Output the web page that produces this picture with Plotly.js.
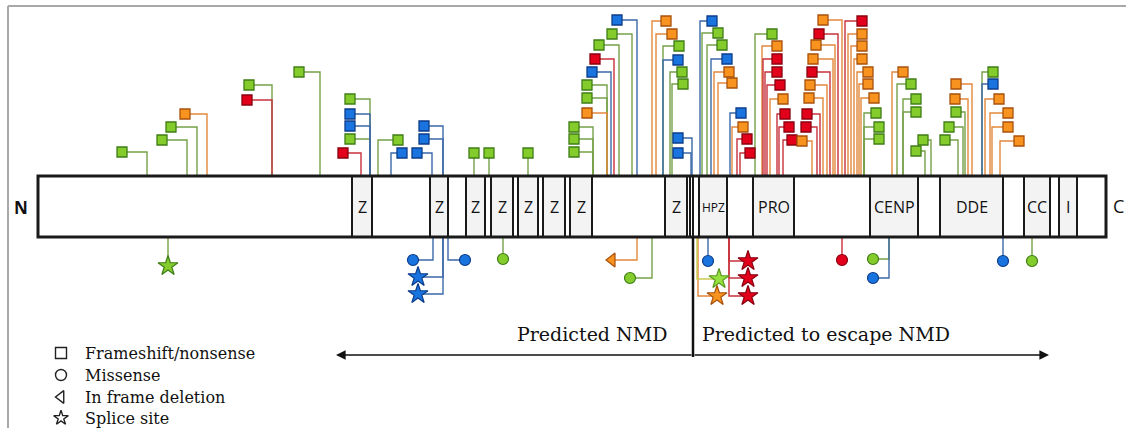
<!DOCTYPE html>
<html><head><meta charset="utf-8">
<script src="https://cdn.plot.ly/plotly-3.0.1.min.js"></script>
<style>html,body{margin:0;padding:0;background:#fff}#chart{width:1126px;height:428px}</style>
</head><body><div id="chart"></div>
<script>
// ---- protein bar (positions along the protein, in figure units) ----
const barStart = 38, barEnd = 1106;
const barTop = 176, barBottom = 237;

const domainStart = [352,430,466,491,518,543,570,665,690,699,753,870,940,1024,1059];
const domainEnd   = [372,448,485,513,538,565,592,687,693,727,794,918,1003,1050,1077];
const domainLabel = ['Z','Z','Z','Z','Z','Z','Z','Z','','HPZ','PRO','CENP','DDE','CC','I'];

// ---- mutations above the bar (frameshift / nonsense) ----
const topStem  = [147,187,197,207,272,272,320,370,370,370,370,361,378,391,443,443,432,474,489,528,
                  637,632,619,614,611,607,607,607,593,593,593,652,656,663,663,670,672,692,691,
                  700,702,707,711,714,718,730,732,737,740,755,762,763,765,767,770,777,779,783,
                  842,838,835,833,830,827,823,820,817,812,
                  845,848,851,854,857,859,861,864,864,864,892,897,903,903,931,925,
                  972,968,965,963,958,982,982,985,990,992,1000];
const topHead  = [122,162,171,185,249,247,299,350,350,350,350,343,398,402,424,424,417,474,489,528,
                  617,612,599,595,592,587,587,587,574,574,574,666,672,679,678,682,683,678,678,
                  712,718,722,727,729,732,741,743,747,750,772,777,777,777,780,783,785,789,792,
                  823,819,816,813,812,810,809,807,806,802,
                  862,862,862,862,868,868,874,876,879,879,903,911,916,916,923,916,
                  956,955,956,949,945,993,993,999,1008,1008,1019];
const topLevel = [152,140,127,114,85,100,72,99,114,126,139,153,140,153,126,139,153,153,153,153,
                  20,34,45,59,72,85,98,113,127,139,152,21,34,46,60,72,84,138,153,
                  21,33,45,59,72,83,113,127,139,153,34,46,59,72,85,99,114,127,140,
                  20,34,45,59,72,85,98,114,127,141,
                  21,34,46,59,72,84,98,113,127,139,72,84,99,112,140,151,
                  84,99,112,127,140,72,84,99,113,127,141];
const topType  = ['g','g','g','o','g','r','g','g','b','b','g','r','g','b','b','b','b','g','g','g',
                  'b','g','g','r','b','g','g','o','g','g','g','o','o','g','b','g','g','b','b',
                  'b','g','g','b','o','o','b','o','r','r','g','o','r','r','r','o','r','r','r',
                  'o','r','o','o','r','o','o','r','r','o',
                  'r','o','o','o','o','o','o','g','g','g','o','g','g','g','g','g',
                  'o','o','g','g','g','g','b','o','o','o','o'];

// ---- mutations below the bar ----
const botStem   = [168,433,443,443,448,503,637,652,708,697,698,729,729,729,842,889,889,1003,1032];
const botHead   = [168,413,418,418,465,503,612,630,708,719,717,748,748,748,842,873,873,1003,1032];
const botLevel  = [266,260,277,294,260,259,260,278,261,279,296,261,278,296,260,259,278,261,261];
const botType   = ['g','b','b','b','b','g','o','g','b','l','o','r','r','r','r','g','b','b','g'];
const botSymbol = ['star','circle','star','star','circle','circle','triangle-left','circle','circle',
                   'star','star','star','star','star','circle','circle','circle','circle','circle'];

// ---- legend / labels ----
const legendSymbols = ['square-open','circle-open','triangle-left-open','star-open'];
const legendLabels  = ['Frameshift/nonsense','Missense','In frame deletion','Splice site'];
const nmdLabels     = ['Predicted NMD','Predicted to escape NMD'];

// ---- styles ----
const fillC = {g:'#84cc2c', o:'#f7931e', r:'#e3001b', b:'#1a74e0', l:'#96e040'};
const edgeC = {g:'#3f7d16', o:'#a9510c', r:'#8a0010', b:'#0c3c8a', l:'#5a9a20'};
const lineC = {g:'#76a048', o:'#e3883c', r:'#c8323c', b:'#3b68a8', l:'#c9cc50'};

const traces = [];
function addLines(stems, heads, levels, types, base) {
  const groups = {};
  stems.forEach((s, i) => {
    const t = types[i];
    if (!groups[t]) groups[t] = {x: [], y: []};
    groups[t].x.push(s, s, heads[i], null);
    groups[t].y.push(base, levels[i], levels[i], null);
  });
  Object.keys(groups).forEach(t => traces.push({
    type: 'scatter', mode: 'lines', x: groups[t].x, y: groups[t].y,
    line: {color: lineC[t], width: 1.4}, hoverinfo: 'skip', showlegend: false
  }));
}
addLines(topStem, topHead, topLevel, topType, barTop);
addLines(botStem, botHead, botLevel, botType, barBottom);

traces.push({
  type: 'scatter', mode: 'markers', x: topHead, y: topLevel, showlegend: false, hoverinfo: 'skip',
  marker: {symbol: 'square', size: 10, opacity: 1, color: topType.map(t => fillC[t]),
           line: {color: topType.map(t => edgeC[t]), width: 1.3}}
});
traces.push({
  type: 'scatter', mode: 'markers', x: botHead, y: botLevel, showlegend: false, hoverinfo: 'skip',
  marker: {symbol: botSymbol, opacity: 1,
           size: botSymbol.map(s => s === 'star' ? 15 : (s === 'circle' ? 11 : 12)),
           color: botType.map(t => fillC[t]),
           line: {color: botType.map(t => edgeC[t]), width: 1.2}}
});
traces.push({
  type: 'scatter', mode: 'markers', x: legendSymbols.map(() => 61), y: [353, 375, 397, 418],
  showlegend: false, hoverinfo: 'skip',
  marker: {symbol: legendSymbols, size: 11, opacity: 1, color: '#222', line: {color: '#222', width: 1.4}}
});

const shapes = [
  {type: 'line', x0: 8, x1: 1126, y0: 6, y1: 6, line: {color: '#a8a8a8', width: 2}},
  {type: 'line', x0: 8, x1: 8, y0: 6, y1: 428, line: {color: '#a8a8a8', width: 2}},
  {type: 'rect', x0: barStart, x1: barEnd, y0: barTop, y1: barBottom, layer: 'below',
   fillcolor: '#ffffff', line: {width: 0}}
];
domainStart.forEach((s, i) => {
  shapes.push({type: 'rect', x0: s, x1: domainEnd[i], y0: barTop, y1: barBottom, layer: 'below',
               fillcolor: domainLabel[i] ? '#f3f3f3' : '#ffffff', line: {color: '#1a1a1a', width: 2}});
});
shapes.push({type: 'rect', x0: barStart, x1: barEnd, y0: barTop, y1: barBottom,
             fillcolor: 'rgba(0,0,0,0)', line: {color: '#1a1a1a', width: 3}});
shapes.push({type: 'line', x0: 693, x1: 693, y0: barBottom, y1: 357, line: {color: '#111', width: 2.5}});

const annotations = [];
domainLabel.forEach((lab, i) => {
  if (!lab) return;
  annotations.push({x: (domainStart[i] + domainEnd[i]) / 2, y: 207, text: lab, showarrow: false,
    font: {family: 'Open Sans, sans-serif', size: lab === 'HPZ' ? 12 : 16, color: '#111'}});
});
annotations.push({x: 21, y: 207, text: '<b>N</b>', showarrow: false,
  font: {family: 'Open Sans, sans-serif', size: 17, color: '#111'}});
annotations.push({x: 1118, y: 206, text: 'C', showarrow: false,
  font: {family: 'Open Sans, sans-serif', size: 18, color: '#111'}});
legendLabels.forEach((lab, i) => {
  annotations.push({x: 83, y: [353, 375, 397, 418][i], text: lab, showarrow: false, xanchor: 'left',
    font: {family: 'DejaVu Serif, serif', size: 16, color: '#111'}});
});
annotations.push({x: 592, y: 334, text: nmdLabels[0], showarrow: false,
  font: {family: 'DejaVu Serif, serif', size: 19, color: '#111'}});
annotations.push({x: 826, y: 334, text: nmdLabels[1], showarrow: false,
  font: {family: 'DejaVu Serif, serif', size: 19, color: '#111'}});
annotations.push({x: 336, y: 355, ax: 693, ay: 355, axref: 'x', ayref: 'y', xref: 'x', yref: 'y',
  text: '', showarrow: true, arrowhead: 2, arrowsize: 1.2, arrowwidth: 1.6, arrowcolor: '#111'});
annotations.push({x: 1049, y: 355, ax: 693, ay: 355, axref: 'x', ayref: 'y', xref: 'x', yref: 'y',
  text: '', showarrow: true, arrowhead: 2, arrowsize: 1.2, arrowwidth: 1.6, arrowcolor: '#111'});

const layout = {
  width: 1126, height: 428, margin: {l: 0, r: 0, t: 0, b: 0},
  paper_bgcolor: '#fff', plot_bgcolor: '#fff',
  xaxis: {range: [0, 1126], visible: false, fixedrange: true},
  yaxis: {range: [428, 0], visible: false, fixedrange: true},
  shapes: shapes, annotations: annotations, showlegend: false
};
Plotly.newPlot('chart', traces, layout, {staticPlot: true, displayModeBar: false});
</script>
</body></html>
